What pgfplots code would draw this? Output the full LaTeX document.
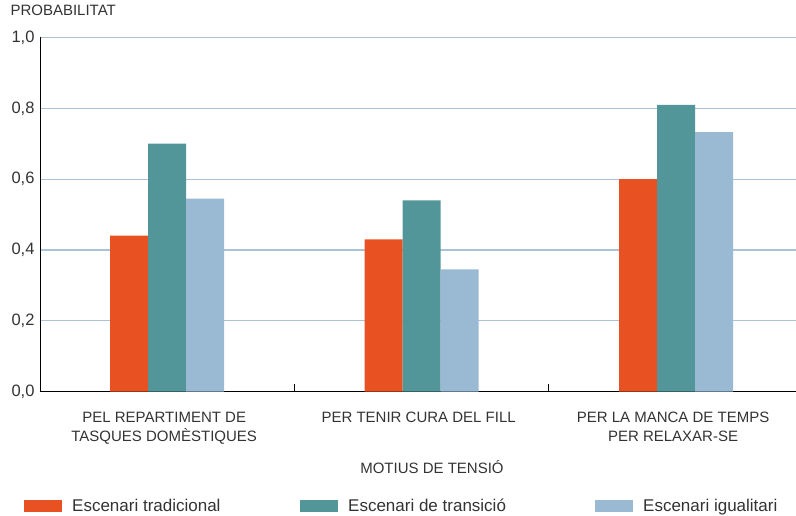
\documentclass[border=0pt]{standalone}
\usepackage{fontspec}
\setmainfont{Liberation Sans}
\usepackage{pgfplots}
\pgfplotsset{compat=1.18}
\definecolor{cOr}{HTML}{E85222}
\definecolor{cTe}{HTML}{52969A}
\definecolor{cLb}{HTML}{9AB9D3}
\definecolor{cGrid}{HTML}{AAC3D8}
\definecolor{cTxt}{HTML}{333333}
\pgfplotsset{mylegend/.style={legend image code/.code={\fill[##1] (0pt,-6pt) rectangle (38pt,6pt);}}}
\begin{document}
\begin{tikzpicture}[x=1pt,y=1pt]
\path[use as bounding box] (0,0) rectangle (796,515);
\begin{axis}[
  at={(40pt,123.5pt)}, anchor=south west,
  scale only axis, width=756pt, height=354pt,
  xmin=-0.5, xmax=2.4715, ymin=0, ymax=1,
  axis lines*=left,
  axis line style={black, line width=0.8pt},
  ybar=0pt, bar width=38pt,
  ytick={0,0.2,0.4,0.6,0.8,1.0},
  yticklabel style={/pgf/number format/fixed, /pgf/number format/fixed zerofill, /pgf/number format/precision=1, /pgf/number format/use comma, /pgf/number format/assume math mode=true},
  y tick label style={font=\fontsize{16.5}{16.5}\selectfont, text=cTxt, xshift=-2pt},
  ytick style={draw=none},
  ymajorgrids, grid style={cGrid, line width=1.2pt},
  xtick={0,1,2},
  xticklabels={{PEL REPARTIMENT DE\\TASQUES DOMÈSTIQUES},{PER TENIR CURA DEL FILL},{PER LA MANCA DE TEMPS\\PER RELAXAR-SE}},
  x tick label style={align=center, font=\fontsize{15}{18.6}\selectfont, text=cTxt, xshift=-3pt, yshift=-13pt},
  xtick style={draw=none},
  extra x ticks={0.5,1.5},
  extra x tick labels={},
  extra x tick style={xtick style={draw=black, line width=0.8pt}, major tick length=8pt, tick align=inside, grid=none},
  xlabel={MOTIUS DE TENSIÓ},
  xlabel style={at={(axis description cs:0.5185,0)}, anchor=base, yshift=-82pt, font=\fontsize{15}{15}\selectfont, text=cTxt},
  title={PROBABILITAT},
  title style={at={(axis description cs:0,1)}, anchor=base west, xshift=-33pt, yshift=15.5pt, font=\fontsize{15}{15}\selectfont, text=cTxt},
  legend columns=3,
  legend style={at={(axis description cs:-0.02116,-0.3234)}, anchor=west, draw=none, inner sep=0pt, font=\fontsize{17}{17}\selectfont, text=cTxt,
    /tikz/every odd column/.append style={column sep=8pt}},
  legend cell align=left,
  clip=false,
]
\addplot[fill=cOr, draw=none, mylegend] coordinates {(0,0.44) (1,0.43) (2,0.60)};
\addlegendentry{\makebox[226pt][l]{Escenari tradicional}}
\addplot[fill=cTe, draw=none, mylegend] coordinates {(0,0.70) (1,0.54) (2,0.81)};
\addlegendentry{\makebox[245pt][l]{Escenari de transició}}
\addplot[fill=cLb, draw=none, mylegend] coordinates {(0,0.545) (1,0.345) (2,0.733)};
\addlegendentry{\makebox[140pt][l]{Escenari igualitari}}
\end{axis}
\end{tikzpicture}
\end{document}
